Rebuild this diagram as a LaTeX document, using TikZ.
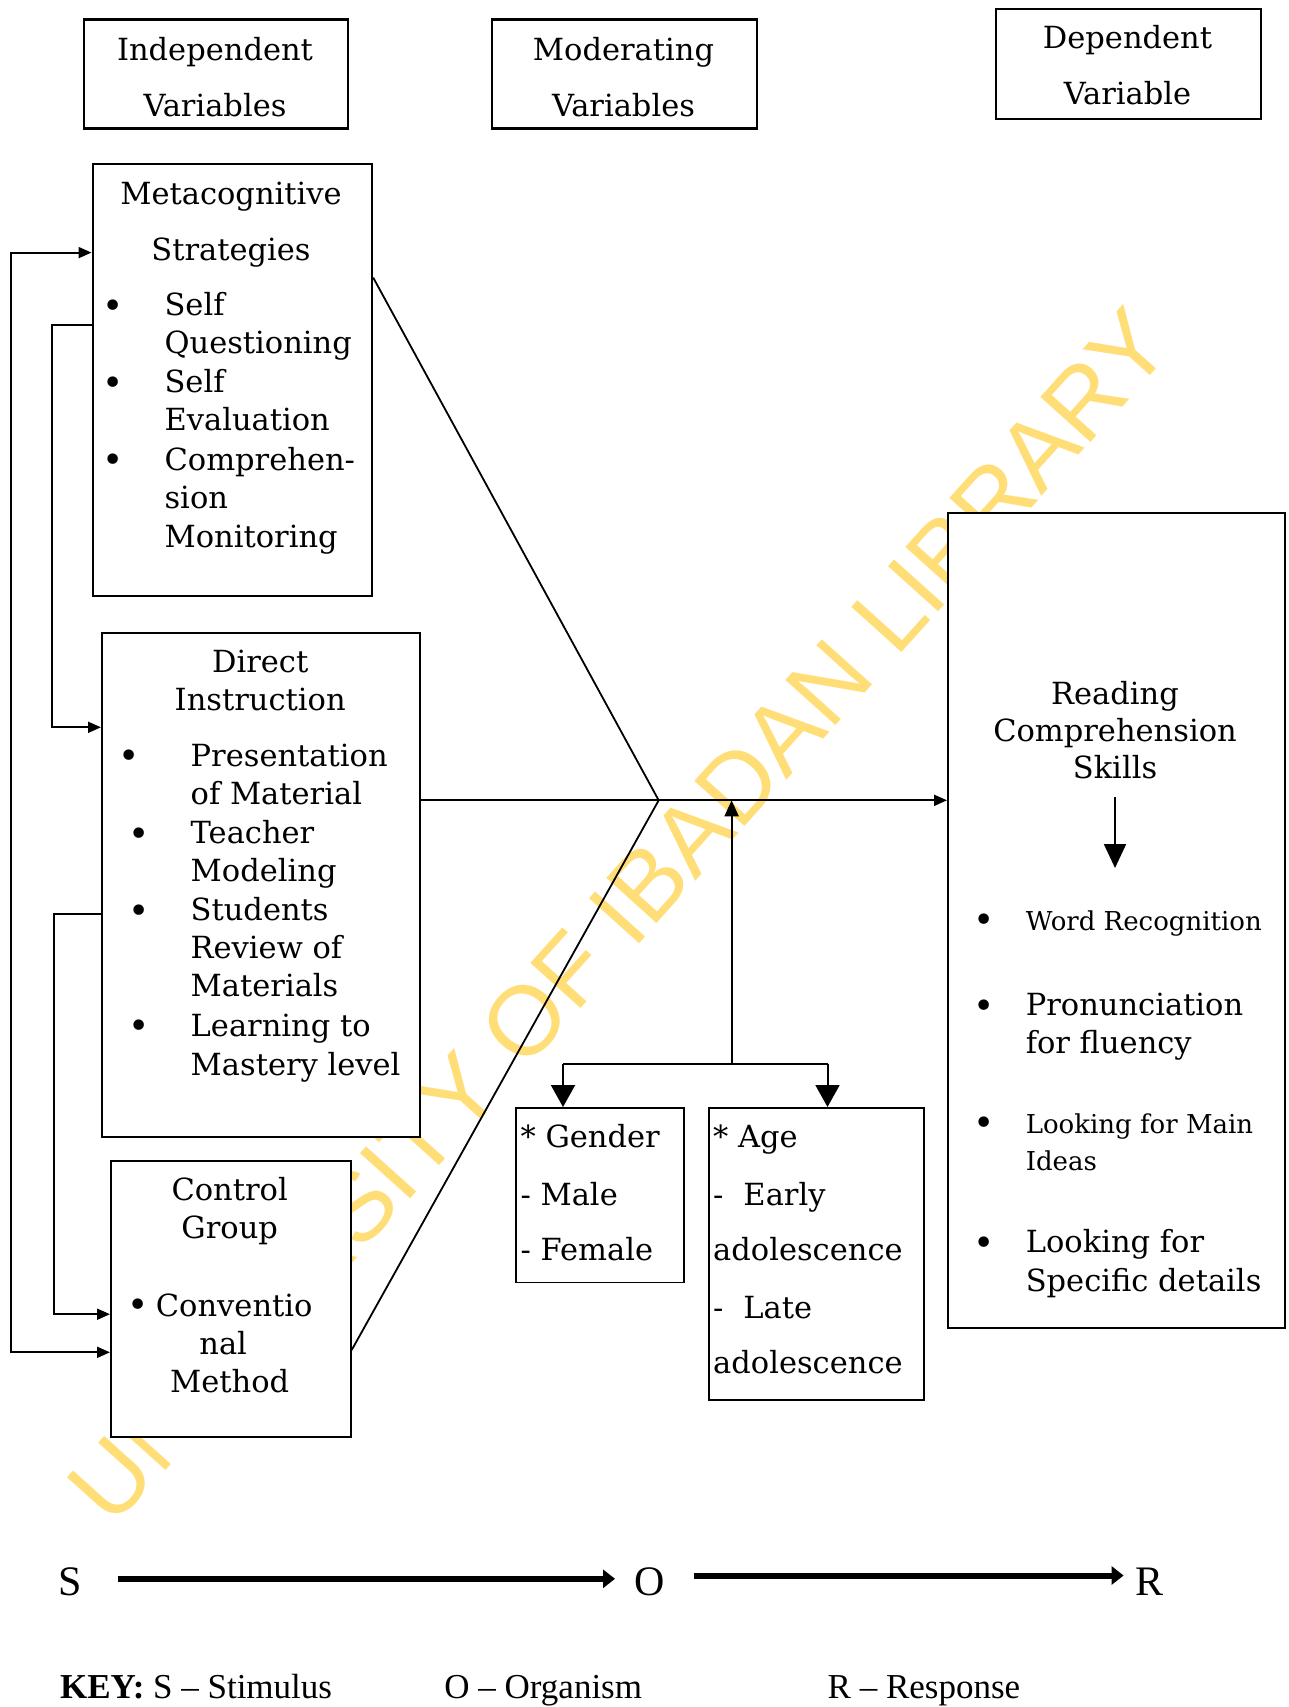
\documentclass[tikz,border=0pt]{standalone}
\usepackage{fontspec}
\setmainfont{DejaVu Serif}
\newfontfamily\timesf{Liberation Serif}
\newfontfamily\wmf{Liberation Sans}
\usetikzlibrary{arrows.meta,calc}
\definecolor{wmyellow}{RGB}{255,222,120}
\begin{document}
\begin{tikzpicture}[x=1pt,y=-1pt,
  box/.style={draw, fill=white, line width=2.2pt, inner sep=0pt, anchor=north west},
  thinbox/.style={draw, fill=white, line width=1.6pt, inner sep=0pt, anchor=north west},
  tx/.style={inner sep=0pt, yshift=-8pt, font=\fontsize{30.5}{34}\selectfont},
  txs/.style={inner sep=0pt, yshift=-8pt, font=\fontsize{26}{30}\selectfont},
  bul/.style={inner sep=0pt, anchor=center, yshift=-3pt, font=\fontsize{36}{36}\selectfont},
  ln/.style={line width=2pt},
  dg/.style={line width=1.8pt},
  smallarrow/.style={-{Triangle[length=13pt,width=11pt]}},
  bigarrow/.style={-{Triangle[length=22pt,width=24pt]}},
  sortxt/.style={inner sep=0pt, yshift=-12pt, font=\timesf\fontsize{42}{46}\selectfont},
  keytxt/.style={inner sep=0pt, yshift=-7.5pt, font=\timesf\fontsize{35}{38}\selectfont},
  fat/.style={line width=6pt, -{Triangle[length=12pt,width=18pt]}}
]
\useasboundingbox (0,0) rectangle (1288,1707);
\fill[white] (0,0) rectangle (1288,1707);

% watermark (behind the boxes)
\node[inner sep=0pt, text=wmyellow, rotate=48, font=\wmf\fontsize{98}{100}\selectfont] (wm) at (619,916) {UNIVERSITY OF IBADAN LIBRARY};

% header boxes
\node[box, minimum width=264pt, minimum height=109pt] (indep) at (83,18.5) {};
\node[tx, anchor=mid] (indep1) at (215,50) {Independent};
\node[tx, anchor=mid] (indep2) at (215,105.6) {Variables};

\node[box, minimum width=265pt, minimum height=109pt] (moder) at (491,18.5) {};
\node[tx, anchor=mid] (moder1) at (623.5,50) {Moderating};
\node[tx, anchor=mid] (moder2) at (623.5,105.6) {Variables};

\node[box, minimum width=265pt, minimum height=110pt] (depen) at (995,7.6) {};
\node[tx, anchor=mid] (depen1) at (1127.5,38) {Dependent};
\node[tx, anchor=mid] (depen2) at (1127.5,93.6) {Variable};

% Metacognitive strategies
\node[box, minimum width=279.5pt, minimum height=431.5pt] (meta) at (91.5,163) {};
\node[tx, anchor=mid] (m1) at (231,194) {Metacognitive};
\node[tx, anchor=mid] (m2) at (231,250.4) {Strategies};
\node[bul] (mb1) at (113,306) {•};
\node[bul] (mb2) at (113,383) {•};
\node[bul] (mb3) at (113,460.5) {•};
\node[tx, anchor=mid west] (m3) at (164.4,304.9) {Self};
\node[tx, anchor=mid west] (m4) at (164.4,343) {Questioning};
\node[tx, anchor=mid west] (m5) at (164.4,382.2) {Self};
\node[tx, anchor=mid west] (m6) at (164.4,420.3) {Evaluation};
\node[tx, anchor=mid west] (m7) at (164.4,459.5) {Comprehen-};
\node[tx, anchor=mid west] (m8) at (164.4,497.6) {sion};
\node[tx, anchor=mid west] (m9) at (164.4,536.8) {Monitoring};

% Direct instruction
\node[box, minimum width=318pt, minimum height=504pt] (direct) at (101,631.5) {};
\node[tx, anchor=mid] (d1) at (260.2,662) {Direct};
\node[tx, anchor=mid] (d2) at (260.2,700) {Instruction};
\node[bul] (db1) at (129.6,756.5) {•};
\node[bul] (db2) at (139.4,834) {•};
\node[bul] (db3) at (139.4,911) {•};
\node[bul] (db4) at (139.4,1026.5) {•};
\node[tx, anchor=mid west] (d3) at (190.5,755.6) {Presentation};
\node[tx, anchor=mid west] (d4) at (190.5,793.7) {of Material};
\node[tx, anchor=mid west] (d5) at (190.5,833) {Teacher};
\node[tx, anchor=mid west] (d6) at (190.5,871) {Modeling};
\node[tx, anchor=mid west] (d7) at (190.5,910.2) {Students};
\node[tx, anchor=mid west] (d8) at (190.5,948.3) {Review of};
\node[tx, anchor=mid west] (d9) at (190.5,985.4) {Materials};
\node[tx, anchor=mid west] (d10) at (190.5,1025.6) {Learning to};
\node[tx, anchor=mid west] (d11) at (190.5,1064.8) {Mastery level};

% Control group
\node[box, minimum width=239.5pt, minimum height=276.5pt] (control) at (110,1159.5) {};
\node[tx, anchor=mid] (c1) at (229.7,1190) {Control};
\node[tx, anchor=mid] (c2) at (229.7,1228.2) {Group};
\node[bul] (cb1) at (138.3,1305.5) {•};
\node[tx, anchor=mid west] (c3) at (155.7,1305.5) {Conventio};
\node[tx, anchor=mid] (c4) at (223.2,1343.6) {nal};
\node[tx, anchor=mid] (c5) at (229.7,1381.7) {Method};

% Moderators
\node[thinbox, minimum width=168pt, minimum height=174.5pt] (gender) at (515,1107) {};
\node[tx, anchor=mid west] (g1) at (520.4,1136.7) {* Gender};
\node[tx, anchor=mid west] (g2) at (520.4,1194.4) {- Male};
\node[tx, anchor=mid west] (g3) at (520.4,1250) {- Female};

\node[thinbox, minimum width=215pt, minimum height=292pt] (age) at (708,1107) {};
\node[tx, anchor=mid west] (a1) at (713,1136.7) {* Age};
\node[tx, anchor=mid west] (a2) at (713,1194.4) {-\hspace{20pt}Early};
\node[tx, anchor=mid west] (a3) at (713,1250) {adolescence};
\node[tx, anchor=mid west] (a4) at (713,1307.6) {-\hspace{20pt}Late};
\node[tx, anchor=mid west] (a5) at (713,1363.2) {adolescence};

% Reading comprehension
\node[box, minimum width=337pt, minimum height=815pt] (reading) at (947,512) {};
\node[tx, anchor=mid] (r1) at (1115,693.6) {Reading};
\node[tx, anchor=mid] (r2) at (1115,730.6) {Comprehension};
\node[tx, anchor=mid] (r3) at (1115,767.6) {Skills};
\node[bul] (rb1) at (984.3,920.5) {•};
\node[bul] (rb2) at (984.3,1006) {•};
\node[bul] (rb3) at (984.3,1123) {•};
\node[bul] (rb4) at (984.3,1243) {•};
\node[txs, anchor=mid west] (r4) at (1025.6,920) {Word Recognition};
\node[tx, anchor=mid west] (r5) at (1025.6,1005) {Pronunciation};
\node[tx, anchor=mid west] (r6) at (1025.6,1043) {for fluency};
\node[txs, anchor=mid west] (r7) at (1025.6,1122.5) {Looking for Main};
\node[txs, anchor=mid west] (r8) at (1025.6,1159.6) {Ideas};
\node[tx, anchor=mid west] (r9) at (1025.6,1242.3) {Looking for};
\node[tx, anchor=mid west] (r10) at (1025.6,1280.4) {Specific details};
\coordinate (ra) at (1115,797);
\draw[ln, -{Triangle[length=24pt,width=22pt]}] (ra) -- ++(0,71);

% junction and connectors
\coordinate (J) at (658.7,800.3);
\draw[dg] ([yshift=-114.6pt]meta.north east) -- (J);
\draw[ln, smallarrow] ([yshift=-168.8pt]direct.north east) -- (J) -- (J -| reading.west);
\draw[dg] ([yshift=-190.5pt]control.north east) -- (J);

\coordinate (mc) at (731.6,1063.7);
\coordinate (mL) at (563,1063.7);
\coordinate (mR) at (827.5,1063.7);
\draw[ln, -{Triangle[length=16pt,width=14pt]}] (mc) -- (mc |- J);
\draw[ln] (mL) -- (mR);
\draw[ln, bigarrow] (mL) -- (mL |- gender.north);
\draw[ln, bigarrow] (mR) -- (mR |- age.north);

% feedback lines on the left
\draw[ln, {Triangle[length=13pt,width=11pt]}-{Triangle[length=13pt,width=11pt]}]
  ([yshift=-89.6pt]meta.north west) -- ++(-80.6,0) |- ([yshift=-192.8pt]control.north west);
\draw[ln, smallarrow]
  ([yshift=-161.5pt]meta.north west) -- ++(-39.2,0) |- ([yshift=-95.8pt]direct.north west);
\draw[ln, smallarrow]
  ([yshift=-282pt]direct.north west) -- ++(-46.6,0) |- ([yshift=-154.7pt]control.north west);

% S - O - R
\node[sortxt, anchor=mid] (S) at (69.7,1581) {S};
\node[sortxt, anchor=mid] (O) at (650,1581) {O};
\node[sortxt, anchor=mid] (R) at (1149.8,1581) {R};
\coordinate (s1) at (117.6,1578.8);
\coordinate (s2) at (615,1578.8);
\coordinate (o1) at (693.6,1575.5);
\coordinate (o2) at (1123.6,1575.5);
\draw[fat] (s1) -- (s2);
\draw[fat] (o1) -- (o2);

% key
\node[keytxt, anchor=mid west] (k1) at (59.9,1688.7) {\textbf{KEY:} S – Stimulus};
\node[keytxt, anchor=mid west] (k2) at (444.2,1688.7) {O – Organism};
\node[keytxt, anchor=mid west] (k3) at (827.5,1688.7) {R – Response};
\end{tikzpicture}
\end{document}
